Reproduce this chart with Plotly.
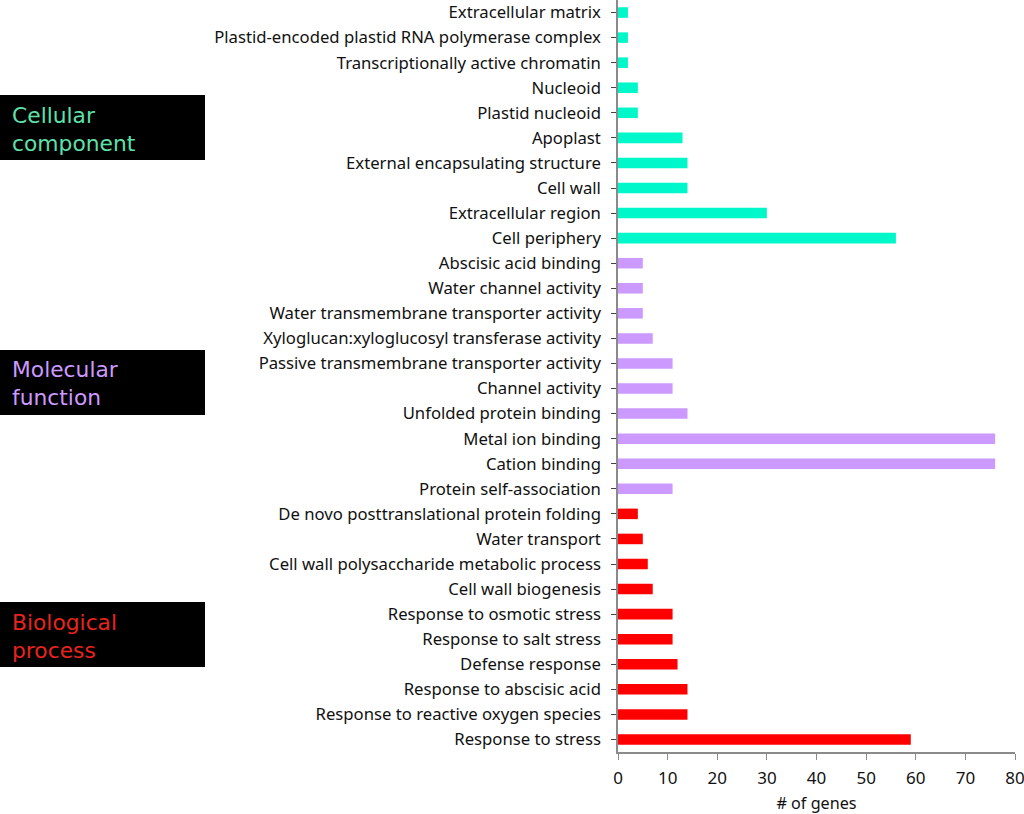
import plotly.graph_objects as go

cc_terms = ["Extracellular matrix", "Plastid-encoded plastid RNA polymerase complex",
            "Transcriptionally active chromatin", "Nucleoid", "Plastid nucleoid", "Apoplast",
            "External encapsulating structure", "Cell wall", "Extracellular region", "Cell periphery"]
cc_values = [2, 2, 2, 4, 4, 13, 14, 14, 30, 56]

mf_terms = ["Abscisic acid binding", "Water channel activity", "Water transmembrane transporter activity",
            "Xyloglucan:xyloglucosyl transferase activity", "Passive transmembrane transporter activity",
            "Channel activity", "Unfolded protein binding", "Metal ion binding", "Cation binding",
            "Protein self-association"]
mf_values = [5, 5, 5, 7, 11, 11, 14, 76, 76, 11]

bp_terms = ["De novo posttranslational protein folding", "Water transport",
            "Cell wall polysaccharide metabolic process", "Cell wall biogenesis",
            "Response to osmotic stress", "Response to salt stress", "Defense response",
            "Response to abscisic acid", "Response to reactive oxygen species", "Response to stress"]
bp_values = [4, 5, 6, 7, 11, 11, 12, 14, 14, 59]

x_ticks = [0, 10, 20, 30, 40, 50, 60, 70, 80]

groups = [
    ("Cellular component", cc_terms, cc_values, "#00F7C9", "#5EE0A8"),
    ("Molecular function", mf_terms, mf_values, "#CC99FF", "#CC99FF"),
    ("Biological process", bp_terms, bp_values, "#FF0000", "#E8241E"),
]

all_terms = cc_terms + mf_terms + bp_terms

fig = go.Figure()
for name, terms, vals, col, _ in groups:
    fig.add_trace(go.Bar(
        x=vals, y=terms, orientation="h", name=name,
        marker=dict(color=col, line=dict(width=0)),
        showlegend=False,
    ))

W, H = 1024, 814
L, R, T, B = 618, 9, 0, 62
pw = W - L - R
ph = H - T - B

def px_to_paper_x(px):
    return (px - L) / pw

def px_to_paper_y(py):
    return 1 - (py - T) / ph

boxes = [(95, 160), (350, 415), (602, 667)]
shapes = []
annotations = []
for (name, _, _, _, tcol), (y0, y1) in zip(groups, boxes):
    shapes.append(dict(type="rect", xref="paper", yref="paper",
                       x0=px_to_paper_x(0), x1=px_to_paper_x(205),
                       y0=px_to_paper_y(y1), y1=px_to_paper_y(y0),
                       fillcolor="black", line=dict(width=0), layer="above"))
    cy = (y0 + y1) / 2
    annotations.append(dict(xref="paper", yref="paper",
                            x=px_to_paper_x(10), y=px_to_paper_y(cy + 1.5),
                            xanchor="left", yanchor="middle", align="left",
                            text=name.replace(" ", "<br>"), showarrow=False,
                            font=dict(family="DejaVu Sans", size=21.8, color=tcol)))

fig.update_layout(
    width=W, height=H,
    margin=dict(l=L, r=R, t=T, b=B),
    paper_bgcolor="white", plot_bgcolor="white",
    bargap=0.58, barmode="overlay",
    font=dict(family="Noto Sans", size=16.7, color="#111111"),
    shapes=shapes, annotations=annotations,
)
fig.update_yaxes(
    categoryorder="array", categoryarray=all_terms, autorange="reversed",
    showline=True, linecolor="#8a8a8a", linewidth=1.5,
    ticks="outside", ticklen=5, tickcolor="#444444", tickwidth=1,
    ticklabelstandoff=7, showgrid=False,
    tickfont=dict(family="Noto Sans", size=16.7, color="#111111"),
)
fig.update_xaxes(
    range=[0, 80], tickvals=x_ticks, showline=True, linecolor="#8a8a8a", linewidth=1.5,
    ticks="outside", ticklen=6, tickcolor="#8a8a8a", showgrid=False, zeroline=False,
    ticklabeloverflow="allow", ticklabelstandoff=4,
    title=dict(text="# of genes", font=dict(family="Noto Sans", size=16.2, color="#111111"), standoff=12),
    tickfont=dict(family="Noto Sans", size=17, color="#111111"),
)

fig.write_html("out.html", config={"displayModeBar": False},
               post_script="document.body.style.margin='0';")
